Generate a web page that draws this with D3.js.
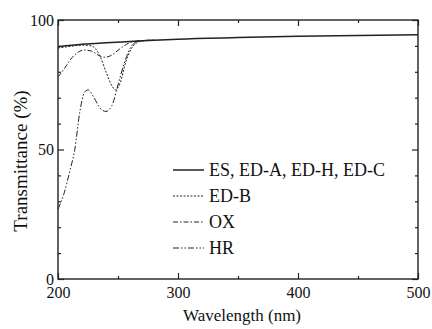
<!DOCTYPE html>
<html>
<head>
<meta charset="utf-8">
<script src="https://cdn.jsdelivr.net/npm/d3@7"></script>
<style>
  body { margin: 0; background: #fff; }
  text { font-family: "Liberation Serif", "Times New Roman", serif; fill: #111; }
</style>
</head>
<body>
<div id="chart"></div>
<script>
// Data
const esWave = [200, 220, 240, 260, 280, 300, 350, 400, 450, 500];
const esT = [89.7, 90.6, 91.2, 91.7, 92.2, 92.6, 93.2, 93.7, 94.0, 94.3];

const edbWave = [200, 210, 220, 228, 235, 240, 245, 248, 252, 256, 260, 265, 270, 280];
const edbT = [89.2, 89.8, 90.3, 90.0, 86.0, 80.0, 74.5, 73.0, 76.0, 83.0, 88.0, 91.0, 91.9, 92.2];

const oxWave = [200, 205, 210, 215, 222, 228, 234, 239, 245, 250, 255, 260, 265, 270, 280];
const oxT = [78.0, 81.0, 84.5, 87.0, 88.4, 88.0, 86.3, 85.6, 86.5, 88.3, 90.0, 91.3, 91.8, 92.0, 92.2];

const hrWave = [200, 205, 210, 214, 218, 222, 225, 230, 235, 240, 245, 250, 255, 260, 265, 270, 280];
const hrT = [27, 33, 42, 50, 64, 72, 73, 70, 66, 64.7, 67, 75, 83, 89, 91.5, 92.1, 92.2];

const seriesNames = ["ES, ED-A, ED-H, ED-C", "ED-B", "OX", "HR"];
const xTicks = [200, 300, 400, 500];
const yTicks = [0, 50, 100];

const makeChart = function() {
    const svgWidth = 432;
    const svgHeight = 329;

    const margin = { top: 20, right: 14, bottom: 50, left: 58 };
    const chartWidth = 418 - margin.left;
    const chartHeight = 279 - margin.top;

    const svg = d3.select('#chart')
        .append('svg')
        .attr('width', svgWidth)
        .attr('height', svgHeight);

    const chartGroup = svg.append('g')
        .attr('transform', `translate(${margin.left}, ${margin.top})`);

    const xScale = d3.scaleLinear().domain([200, 500]).range([0, chartWidth]);
    const yScale = d3.scaleLinear().domain([0, 100]).range([chartHeight, 0]);

    // Frame
    chartGroup.append('rect')
        .attr('width', chartWidth)
        .attr('height', chartHeight)
        .attr('fill', 'none')
        .attr('stroke', '#222')
        .attr('stroke-width', 1.4);

    // Ticks point inward on all four sides
    const xMinor = d3.range(200, 501, 50).filter(v => !xTicks.includes(v));
    const yMinor = d3.range(0, 101, 10).filter(v => !yTicks.includes(v));

    const addAxis = (axis, transform) => {
        const g = chartGroup.append('g').attr('transform', transform).call(axis);
        g.select('.domain').remove();
        g.selectAll('line').attr('stroke', '#222').attr('stroke-width', 1.2);
        g.selectAll('text')
            .style('font-family', '"Liberation Serif", serif')
            .style('font-size', '16px')
            .attr('fill', '#111');
        return g;
    };

    // Bottom
    addAxis(d3.axisTop(xScale).tickValues(xTicks).tickSize(6).tickFormat(''), `translate(0, ${chartHeight})`);
    addAxis(d3.axisTop(xScale).tickValues(xMinor).tickSize(3).tickFormat(''), `translate(0, ${chartHeight})`);
    addAxis(d3.axisBottom(xScale).tickValues(xTicks).tickSize(0).tickPadding(8), `translate(0, ${chartHeight})`);
    // Top
    addAxis(d3.axisBottom(xScale).tickValues(xTicks).tickSize(6).tickFormat(''), 'translate(0, 0)');
    addAxis(d3.axisBottom(xScale).tickValues(xMinor).tickSize(3).tickFormat(''), 'translate(0, 0)');
    // Left
    addAxis(d3.axisRight(yScale).tickValues(yTicks).tickSize(6).tickFormat(''), 'translate(0, 0)');
    addAxis(d3.axisRight(yScale).tickValues(yMinor).tickSize(3).tickFormat(''), 'translate(0, 0)');
    addAxis(d3.axisLeft(yScale).tickValues(yTicks).tickSize(0).tickPadding(4), 'translate(0, 0)');
    // Right
    addAxis(d3.axisLeft(yScale).tickValues(yTicks).tickSize(6).tickFormat(''), `translate(${chartWidth}, 0)`);
    addAxis(d3.axisLeft(yScale).tickValues(yMinor).tickSize(3).tickFormat(''), `translate(${chartWidth}, 0)`);

    // Curves
    const series = [
        { name: seriesNames[0], wave: esWave, t: esT, dash: null, width: 1.5 },
        { name: seriesNames[1], wave: edbWave, t: edbT, dash: '2,1.5', width: 1 },
        { name: seriesNames[2], wave: oxWave, t: oxT, dash: '5,2,1.5,2', width: 1 },
        { name: seriesNames[3], wave: hrWave, t: hrT, dash: '6,2,1.5,2,1.5,2', width: 1 }
    ];

    const line = d3.line()
        .x(d => xScale(d[0]))
        .y(d => yScale(d[1]))
        .curve(d3.curveMonotoneX);

    series.slice().reverse().forEach(s => {
        chartGroup.append('path')
            .datum(s.wave.map((w, i) => [w, s.t[i]]))
            .attr('d', line)
            .attr('fill', 'none')
            .attr('stroke', '#222')
            .attr('stroke-width', s.width)
            .attr('stroke-dasharray', s.dash);
    });

    // Legend
    const legend = chartGroup.append('g').attr('transform', 'translate(115, 150)');
    series.forEach((s, i) => {
        const row = legend.append('g').attr('transform', `translate(0, ${i * 26})`);
        row.append('line')
            .attr('x1', 0).attr('x2', 31)
            .attr('stroke', '#222')
            .attr('stroke-width', s.width)
            .attr('stroke-dasharray', s.dash);
        row.append('text')
            .attr('x', 36)
            .attr('y', 6)
            .style('font-size', '18px')
            .text(s.name);
    });

    // Axis titles
    chartGroup.append('text')
        .attr('transform', `translate(184, ${chartHeight + 42})`)
        .attr('text-anchor', 'middle')
        .style('font-size', '17px')
        .text('Wavelength (nm)');
    chartGroup.append('text')
        .attr('transform', `translate(-31, 141) rotate(-90)`)
        .attr('text-anchor', 'middle')
        .style('font-size', '19px')
        .text('Transmittance (%)');
};

makeChart();
</script>
</body>
</html>
